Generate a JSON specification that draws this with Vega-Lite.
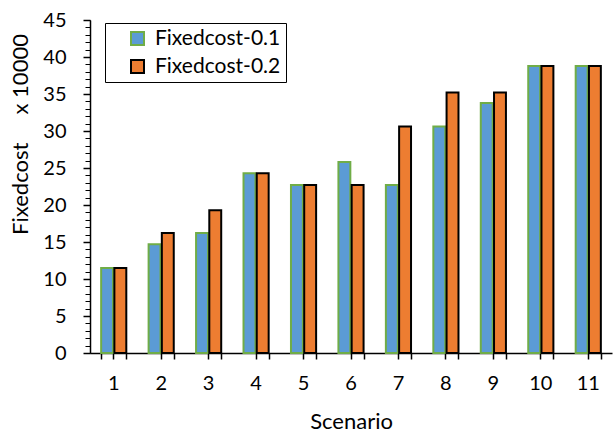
{
  "$schema": "https://vega.github.io/schema/vega-lite/v6.json",
  "width": 522,
  "height": 333,
  "autosize": "none",
  "padding": {"left": 90, "top": 20, "right": 1, "bottom": 79},
  "background": "white",
  "config": {
    "view": {"stroke": null},
    "font": "Lato",
    "axis": {"grid": false, "domainColor": "#000000", "tickColor": "#000000", "labelColor": "#000000", "titleColor": "#000000", "labelFont": "Lato", "titleFont": "Lato", "labelFontSize": 20, "titleFontSize": 22, "titleFontWeight": "normal", "domainWidth": 1.5, "tickWidth": 1.5}
  },
  "data": {
    "values": [
      {"Scenario": "1", "Series": "Fixedcost-0.1", "Value": 11.5},
      {"Scenario": "1", "Series": "Fixedcost-0.2", "Value": 11.5},
      {"Scenario": "2", "Series": "Fixedcost-0.1", "Value": 14.7},
      {"Scenario": "2", "Series": "Fixedcost-0.2", "Value": 16.2},
      {"Scenario": "3", "Series": "Fixedcost-0.1", "Value": 16.2},
      {"Scenario": "3", "Series": "Fixedcost-0.2", "Value": 19.3},
      {"Scenario": "4", "Series": "Fixedcost-0.1", "Value": 24.3},
      {"Scenario": "4", "Series": "Fixedcost-0.2", "Value": 24.3},
      {"Scenario": "5", "Series": "Fixedcost-0.1", "Value": 22.7},
      {"Scenario": "5", "Series": "Fixedcost-0.2", "Value": 22.7},
      {"Scenario": "6", "Series": "Fixedcost-0.1", "Value": 25.8},
      {"Scenario": "6", "Series": "Fixedcost-0.2", "Value": 22.7},
      {"Scenario": "7", "Series": "Fixedcost-0.1", "Value": 22.7},
      {"Scenario": "7", "Series": "Fixedcost-0.2", "Value": 30.6},
      {"Scenario": "8", "Series": "Fixedcost-0.1", "Value": 30.6},
      {"Scenario": "8", "Series": "Fixedcost-0.2", "Value": 35.2},
      {"Scenario": "9", "Series": "Fixedcost-0.1", "Value": 33.8},
      {"Scenario": "9", "Series": "Fixedcost-0.2", "Value": 35.2},
      {"Scenario": "10", "Series": "Fixedcost-0.1", "Value": 38.8},
      {"Scenario": "10", "Series": "Fixedcost-0.2", "Value": 38.8},
      {"Scenario": "11", "Series": "Fixedcost-0.1", "Value": 38.8},
      {"Scenario": "11", "Series": "Fixedcost-0.2", "Value": 38.8}
    ]
  },
  "resolve": {"axis": {"x": "independent", "y": "independent"}},
  "layer": [
    {
      "mark": {"type": "bar", "opacity": 0},
      "encoding": {
        "x": {"field": "Scenario", "type": "ordinal", "sort": null,
              "scale": {"paddingInner": 0.47, "paddingOuter": 0.235},
              "axis": {"orient": "bottom", "labels": false, "title": null, "domain": false, "tickBand": "extent", "tickSize": 6}},
        "y": {"field": "Value", "type": "quantitative",
              "scale": {"domain": [0, 45], "nice": false},
              "axis": {"orient": "left", "labels": false, "title": null, "domain": false, "values": [0,1,2,3,4,5,6,7,8,9,10,11,12,13,14,15,16,17,18,19,20,21,22,23,24,25,26,27,28,29,30,31,32,33,34,35,36,37,38,39,40,41,42,43,44,45], "tickSize": 5, "tickWidth": 1}}
      }
    },
    {
      "mark": {"type": "bar"},
      "encoding": {
        "x": {"field": "Scenario", "type": "ordinal", "sort": null,
              "axis": {"orient": "bottom", "title": "Scenario", "labelAngle": 0, "tickSize": 6, "labelPadding": 14, "titlePadding": 18}},
        "xOffset": {"field": "Series", "type": "nominal", "scale": {"paddingInner": 0.1}},
        "y": {"field": "Value", "type": "quantitative",
              "axis": {"orient": "left", "title": "Fixedcost\u00a0\u00a0\u00a0\u00a0\u00a0x 10000", "values": [0,5,10,15,20,25,30,35,40,45], "tickSize": 7, "labelPadding": 17, "titleAlign": "center", "titleBaseline": "middle", "titleAngle": -90, "titleX": -70, "titleY": 114}},
        "color": {"field": "Series", "type": "nominal",
                  "scale": {"domain": ["Fixedcost-0.1", "Fixedcost-0.2"], "range": ["#5B9BD5", "#ED7D31"]},
                  "legend": {"title": null, "orient": "none", "legendX": 15, "legendY": 3, "labelFontSize": 21, "labelFont": "Lato", "labelColor": "#000000", "labelExpr": "datum.label + '\u00a0\u00a0\u00a0'", "symbolType": "square", "symbolSize": 169, "symbolStrokeWidth": 2, "symbolOffset": 17, "strokeColor": "#000000", "fillColor": "white", "padding": 5, "rowPadding": 6, "labelOffset": 7, "symbolOpacity": 1}},
        "stroke": {"field": "Series", "type": "nominal",
                   "scale": {"domain": ["Fixedcost-0.1", "Fixedcost-0.2"], "range": ["#70AD47", "#000000"]},
                   "legend": {"title": null, "orient": "none", "legendX": 15, "legendY": 3, "labelFontSize": 21, "labelFont": "Lato", "labelColor": "#000000", "labelExpr": "datum.label + '\u00a0\u00a0\u00a0'", "symbolType": "square", "symbolSize": 169, "symbolStrokeWidth": 2, "symbolOffset": 17, "strokeColor": "#000000", "fillColor": "white", "padding": 5, "rowPadding": 6, "labelOffset": 7, "symbolOpacity": 1}},
        "strokeWidth": {"value": 2}
      }
    }
  ]
}
